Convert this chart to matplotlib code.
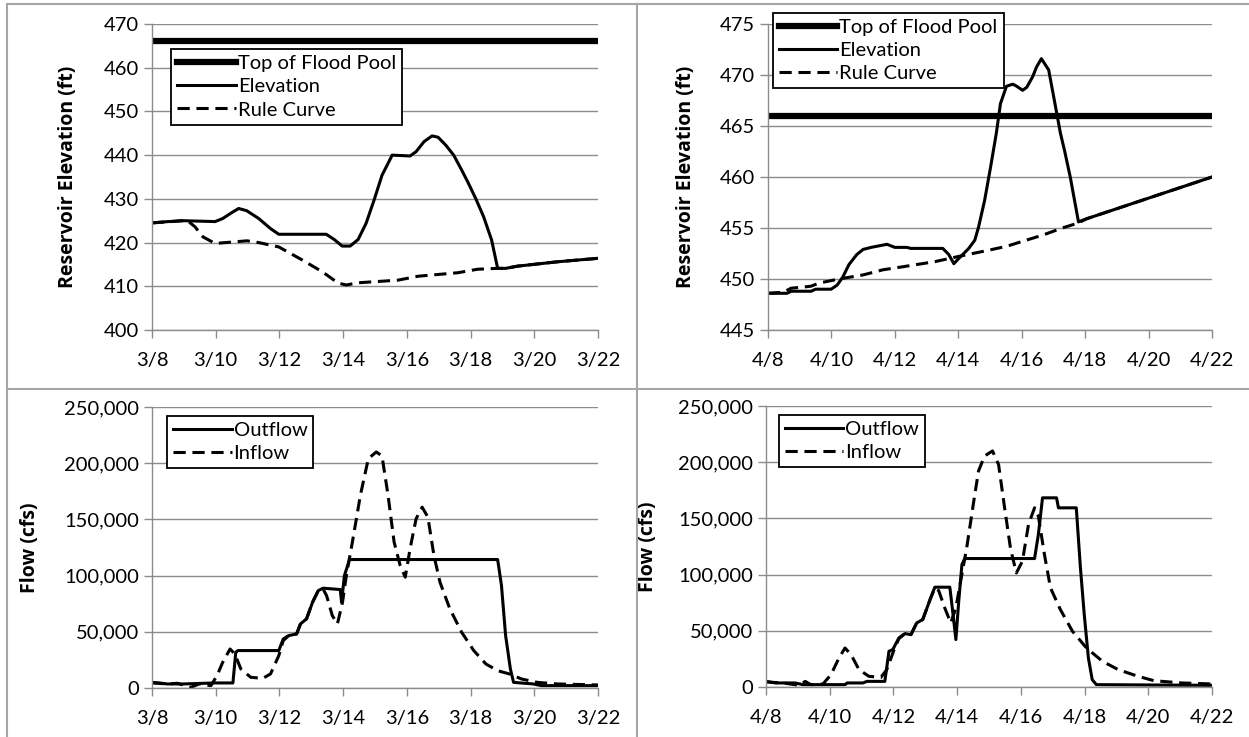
import matplotlib
matplotlib.use("Agg")
import matplotlib.pyplot as plt
from matplotlib.lines import Line2D
from matplotlib.ticker import FuncFormatter

plt.rcParams['font.family'] = ['Lato', 'DejaVu Sans']

# ---- data (days after start date) ----
flood_pool = 466

# March event, elevations (ft)
mar_elev_t = [0, 0.5, 1.0, 1.98, 2.22, 2.47, 2.72, 2.97, 3.35, 3.72, 3.98, 5.47, 5.72, 5.97,
              6.22, 6.47, 6.72, 6.97, 7.22, 7.54, 7.85, 8.1, 8.29, 8.54, 8.79, 8.98, 9.22,
              9.47, 9.72, 9.91, 10.16, 10.41, 10.66, 10.85, 11.1, 11.47, 12.72, 14]
mar_elev = [424.5, 424.8, 425.0, 424.8, 425.5, 426.7, 427.8, 427.3, 425.5, 423.2, 421.9, 421.9,
            420.7, 419.2, 419.2, 420.7, 424.4, 429.7, 435.4, 440.0, 439.9, 439.8, 440.8, 443.1,
            444.4, 444.1, 442.3, 440.0, 436.6, 433.9, 430.1, 425.9, 420.6, 414.1, 414.1, 414.6,
            415.6, 416.4]
mar_rule_t = [0, 0.6, 1.1, 1.35, 1.6, 1.98, 2.98, 3.35, 3.98, 4.72, 5.35, 5.85, 6.1, 6.47,
              7.72, 8.35, 9.6, 10.22, 10.85, 11.1, 11.47, 12.72, 14]
mar_rule = [424.5, 424.8, 425.1, 423.6, 421.3, 419.8, 420.4, 420.0, 419.0, 416.0, 413.3, 410.7,
            410.3, 410.8, 411.4, 412.3, 413.1, 413.9, 414.1, 414.1, 414.6, 415.6, 416.4]

# April event, elevations (ft)
apr_elev_t = [0, 0.6, 0.73, 1.36, 1.5, 1.99, 2.18, 2.36, 2.55, 2.8, 3.0, 3.25, 3.75, 4.0,
              4.38, 4.5, 5.51, 5.7, 5.86, 6.01, 6.14, 6.33, 6.52, 6.64, 6.83, 7.02, 7.2, 7.33,
              7.52, 7.72, 7.84, 8.03, 8.16, 8.34, 8.47, 8.62, 8.85, 9.03, 9.22, 9.35, 9.53,
              9.79, 10.04, 14]
apr_elev = [448.6, 448.6, 448.8, 448.8, 449.0, 449.0, 449.4, 450.2, 451.4, 452.4, 452.9, 453.1,
            453.4, 453.1, 453.1, 453.0, 453.0, 452.4, 451.5, 452.0, 452.4, 453.0, 453.8, 455.1,
            457.7, 461.0, 464.3, 467.2, 468.9, 469.1, 468.9, 468.5, 468.8, 469.8, 470.8, 471.6,
            470.5, 467.5, 464.3, 462.6, 460.0, 455.6, 455.9, 460.0]
apr_rule_t = [0, 0.48, 0.73, 1.1, 1.36, 1.61, 2.24, 3.0, 3.62, 4.25, 5.26, 6.14, 6.77, 7.52,
              8.03, 8.66, 9.28, 9.79, 10.04, 14]
apr_rule = [448.6, 448.7, 449.1, 449.2, 449.3, 449.6, 450.0, 450.4, 450.9, 451.2, 451.7, 452.3,
            452.7, 453.2, 453.7, 454.3, 455.0, 455.5, 455.9, 460.0]

# March event, flows (cfs)
mar_out_t = [0, 0.23, 0.48, 0.98, 1.98, 2.54, 2.63, 2.7, 3.98, 4.12, 4.29, 4.54, 4.66, 4.85,
             5.04, 5.22, 5.37, 5.91, 5.95, 6.04, 6.2, 10.85, 10.97, 11.1, 11.25, 11.35, 11.97,
             12.22, 14]
mar_out = [5000, 4500, 3600, 3600, 4500, 4500, 31800, 33300, 33300, 43600, 46600, 48100, 57000,
           61500, 76300, 86700, 88800, 87600, 76300, 100000, 114300, 114300, 91200, 46600,
           16900, 5000, 3600, 2100, 2100]
mar_in_t = [0, 0.48, 0.8, 1.22, 1.48, 1.85, 2.04, 2.22, 2.45, 2.6, 2.79, 3.1, 3.48, 3.72,
            3.98, 4.12, 4.29, 4.54, 4.66, 4.85, 5.04, 5.22, 5.37, 5.48, 5.66, 5.82, 5.98, 6.1,
            6.29, 6.54, 6.79, 7.04, 7.22, 7.41, 7.6, 7.79, 7.95, 8.1, 8.29, 8.48, 8.66, 8.85,
            9.04, 9.35, 9.72, 10.1, 10.48, 10.85, 11.22, 11.6, 12.1, 12.72, 14]
mar_in = [4500, 3600, 4200, 600, 3600, 2100, 11000, 22900, 34700, 30300, 16900, 9500, 8600,
          12500, 28800, 42200, 46600, 48100, 57000, 61500, 76300, 86700, 88000, 82200, 64400,
          57000, 76300, 100000, 129800, 171300, 204000, 210000, 206400, 171300, 129800, 109000,
          98600, 123800, 150500, 160900, 152000, 117900, 94100, 70400, 49600, 33300, 21400,
          15400, 12500, 8000, 5000, 3600, 2700]

# April event, flows (cfs)
apr_out_t = [0, 0.29, 0.91, 1.16, 2.48, 2.55, 3.04, 3.17, 3.73, 3.86, 3.98, 4.17, 4.36, 4.55,
             4.73, 4.92, 5.17, 5.3, 5.77, 5.86, 5.96, 6.05, 6.15, 6.24, 8.43, 8.55, 8.68, 9.12,
             9.18, 9.74, 9.87, 9.99, 10.12, 10.24, 10.37, 14]
apr_out = [5000, 3600, 3600, 2100, 2100, 3600, 3600, 5000, 5000, 31800, 33300, 43600, 47500,
           46600, 57000, 60000, 79300, 88800, 88800, 67400, 42200, 76300, 109000, 114300,
           114300, 135700, 168300, 168300, 159400, 159400, 106000, 64400, 25800, 6500, 2100, 1500]
apr_in_t = [0, 0.54, 1.04, 1.23, 1.41, 1.79, 2.04, 2.29, 2.48, 2.67, 2.92, 3.23, 3.61, 3.79,
            4.04, 4.17, 4.36, 4.55, 4.73, 4.92, 5.17, 5.3, 5.42, 5.61, 5.8, 5.96, 6.11, 6.3,
            6.49, 6.67, 6.86, 7.11, 7.3, 7.49, 7.68, 7.86, 8.05, 8.24, 8.43, 8.55, 8.74, 8.93,
            9.24, 9.62, 10.06, 10.56, 11.06, 11.68, 12.18, 13.06, 14]
apr_in = [4500, 3600, 1500, 5000, 2100, 2700, 11000, 25800, 34700, 28800, 15400, 9500, 8600,
          15400, 34700, 43000, 47500, 46600, 57000, 60000, 79300, 88000, 85800, 70400, 57000,
          70400, 94100, 123800, 159400, 192100, 205500, 210000, 198000, 159400, 122300, 101500,
          112000, 144600, 159400, 152000, 117900, 88200, 68900, 49600, 34700, 22900, 15400,
          9500, 5600, 3600, 2700]

day_ticks = [0, 2, 4, 6, 8, 10, 12, 14]
mar_labels = ['3/8', '3/10', '3/12', '3/14', '3/16', '3/18', '3/20', '3/22']
apr_labels = ['4/8', '4/10', '4/12', '4/14', '4/16', '4/18', '4/20', '4/22']

# ---- figure ----
W, H = 1249, 737
fig = plt.figure(figsize=(W / 100, H / 100), dpi=100)

def rect(l, r, t, b):
    return [l / W, 1 - b / H, (r - l) / W, (b - t) / H]

GRAY = '#8c8c8c'
FS = 14.5
DASH = (4, 2.2)

def style(ax, labels, ylim, yticks, ylabel, labelx):
    ax.set_xlim(0, 14)
    ax.set_ylim(*ylim)
    ax.set_xticks(day_ticks)
    ax.set_xticklabels(labels)
    ax.set_yticks(yticks)
    ax.grid(axis='y', color=GRAY, lw=1)
    ax.set_axisbelow(True)
    for s in ['top', 'right']:
        ax.spines[s].set_visible(False)
    for s in ['left', 'bottom']:
        ax.spines[s].set_color(GRAY)
        ax.spines[s].set_linewidth(1)
    ax.tick_params(axis='both', colors=GRAY, labelcolor='black', labelsize=FS,
                   length=6, width=1)
    ax.tick_params(axis='x', pad=10)
    ax.set_ylabel(ylabel, fontsize=14, fontweight='bold', family=['Open Sans', 'DejaVu Sans'])
    ax.yaxis.set_label_coords(labelx, 0.5)

def legend(ax, x, y):
    lg = ax.legend(loc='upper left', bbox_to_anchor=(x, y), borderaxespad=0,
                   fontsize=FS, handlelength=2.9, handletextpad=0.1,
                   labelspacing=0.3, borderpad=0.3, fancybox=False, framealpha=1)
    lg.get_frame().set_edgecolor('black')
    lg.get_frame().set_linewidth(1.3)

# top left
ax1 = fig.add_axes(rect(152, 598, 24, 330))
ax1.axhline(flood_pool, color='black', lw=4.5, label='Top of Flood Pool')
ax1.plot(mar_elev_t, mar_elev, color='black', lw=2.2, label='Elevation')
ax1.plot(mar_rule_t, mar_rule, color='black', lw=2.2, dashes=DASH, label='Rule Curve')
style(ax1, mar_labels, (400, 470), range(400, 471, 10), 'Reservoir Elevation (ft)', -0.166)
legend(ax1, 0.043, 0.918)

# top right
ax2 = fig.add_axes(rect(768, 1212, 24, 330))
ax2.axhline(flood_pool, color='black', lw=4.5, label='Top of Flood Pool')
ax2.plot(apr_elev_t, apr_elev, color='black', lw=2.2, label='Elevation')
ax2.plot(apr_rule_t, apr_rule, color='black', lw=2.2, dashes=DASH, label='Rule Curve')
style(ax2, apr_labels, (445, 475), range(445, 476, 5), 'Reservoir Elevation (ft)', -0.162)
legend(ax2, 0.011, 1.036)

flow_fmt = FuncFormatter(lambda v, p: f'{int(v):,}')

# bottom left
ax3 = fig.add_axes(rect(152, 598, 407, 688))
ax3.plot(mar_out_t, mar_out, color='black', lw=2.2, label='Outflow')
ax3.plot(mar_in_t, mar_in, color='black', lw=2.2, dashes=DASH, label='Inflow')
style(ax3, mar_labels, (0, 250000), range(0, 250001, 50000), 'Flow (cfs)', -0.251)
ax3.yaxis.set_major_formatter(flow_fmt)
legend(ax3, 0.034, 0.968)

# bottom right
ax4 = fig.add_axes(rect(766, 1212, 406, 687))
ax4.plot(apr_out_t, apr_out, color='black', lw=2.2, label='Outflow')
ax4.plot(apr_in_t, apr_in, color='black', lw=2.2, dashes=DASH, label='Inflow')
style(ax4, apr_labels, (0, 250000), range(0, 250001, 50000), 'Flow (cfs)', -0.242)
ax4.yaxis.set_major_formatter(flow_fmt)
legend(ax4, 0.029, 0.968)

# panel borders
BORDER = '#a6a6a6'
for x in [7, 637]:
    fig.add_artist(Line2D([x / W, x / W], [0, 1 - 4 / H], transform=fig.transFigure,
                          color=BORDER, lw=1.5))
for y in [4, 389]:
    fig.add_artist(Line2D([7 / W, 1], [1 - y / H, 1 - y / H], transform=fig.transFigure,
                          color=BORDER, lw=1.5))

fig.savefig('out.png', dpi=100)
